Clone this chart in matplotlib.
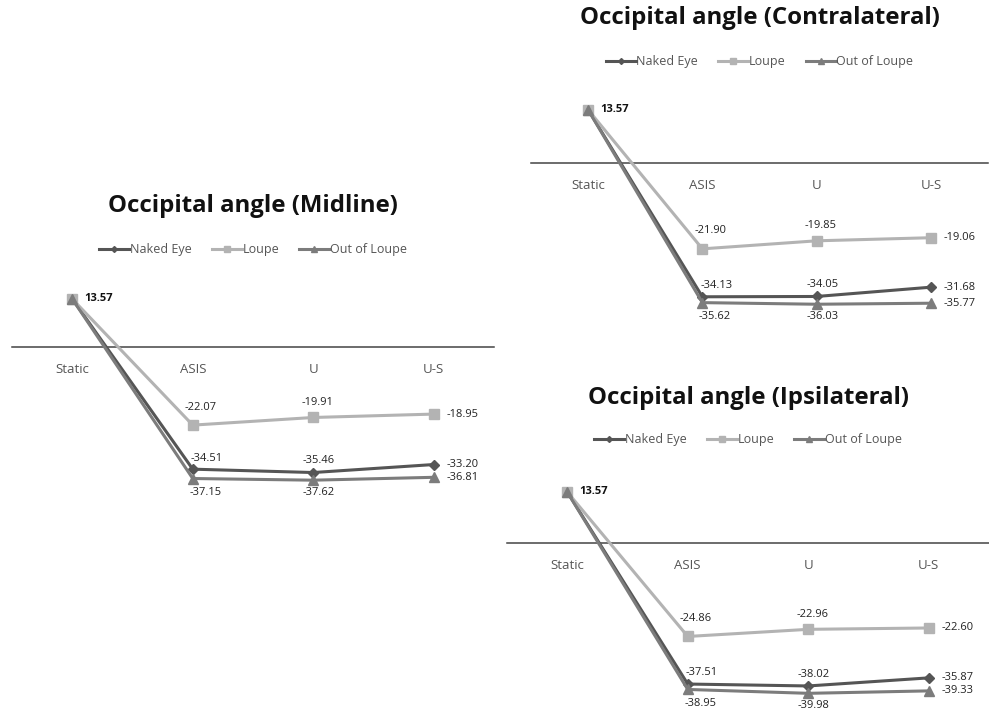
import matplotlib
matplotlib.use("Agg")
import matplotlib.pyplot as plt

plt.rcParams['font.family'] = ['Open Sans', 'DejaVu Sans']

categories = ["Static", "ASIS", "U", "U-S"]
series_names = ["Naked Eye", "Loupe", "Out of Loupe"]

midline_naked = [13.57, -34.51, -35.46, -33.20]
midline_loupe = [13.57, -22.07, -19.91, -18.95]
midline_out = [13.57, -37.15, -37.62, -36.81]

contra_naked = [13.57, -34.13, -34.05, -31.68]
contra_loupe = [13.57, -21.90, -19.85, -19.06]
contra_out = [13.57, -35.62, -36.03, -35.77]

ipsi_naked = [13.57, -37.51, -38.02, -35.87]
ipsi_loupe = [13.57, -24.86, -22.96, -22.60]
ipsi_out = [13.57, -38.95, -39.98, -39.33]

W, H = 989, 711
DPI = 100
fig = plt.figure(figsize=(W / DPI, H / DPI), dpi=DPI)

colors = ["#555555", "#b3b3b3", "#7c7c7c"]
markers = ["D", "s", "^"]
msizes = [5, 6.5, 7]
YLIM = (-43, 18)

# label offsets (points): [series][category index 1..2]
mid_off = {
    1: [(10, 8), (6, 13), (9, -10)],
    2: [(4, 8.5), (3, 11), (4, -9)],
}
last_off = (9, 0)


def panel(title, data, left, right, zero_px, scale, title_y, legend_y):
    top = zero_px - YLIM[1] * scale
    bottom = zero_px - YLIM[0] * scale
    ax = fig.add_axes([left / W, 1 - bottom / H, (right - left) / W, (bottom - top) / H])
    ax.set_xlim(-0.5, 3.5)
    ax.set_ylim(*YLIM)
    for s in ["top", "right", "left"]:
        ax.spines[s].set_visible(False)
    ax.spines["bottom"].set_position(("data", 0))
    ax.spines["bottom"].set_color("#444444")
    ax.spines["bottom"].set_linewidth(1.1)
    ax.set_yticks([])
    x = list(range(len(categories)))
    ax.set_xticks(x)
    ax.set_xticklabels(categories, fontsize=9.5, color="#555555")
    ax.tick_params(axis="x", length=0, pad=11.5)
    handles = []
    for i, vals in enumerate(data):
        ln, = ax.plot(x, vals, color=colors[i], marker=markers[i], markersize=msizes[i],
                      linewidth=2.2, label=series_names[i], clip_on=False, zorder=3 + i)
        handles.append(ln)
        for j, v in enumerate(vals):
            if j == 0:
                if i == 2:
                    ax.annotate(f"{v:.2f}", (j, v), xytext=(9, 0), textcoords="offset points",
                                ha="left", va="center", fontsize=8, fontweight="bold",
                                color="#111111")
                continue
            if j == len(vals) - 1:
                off = last_off
                ha = "left"
            else:
                off = mid_off[j][i]
                ha = "center"
            ax.annotate(f"{v:.2f}", (j, v), xytext=off, textcoords="offset points",
                        ha=ha, va="center", fontsize=8, color="#222222")
    cx = (left + right) / 2
    fig.text(cx / W, 1 - title_y / H, title, ha="center", va="center",
             fontsize=17.3, fontweight="bold", color="#111111")
    fig.legend(handles=handles, loc="center", bbox_to_anchor=(cx / W, 1 - legend_y / H),
               ncol=3, frameon=False, fontsize=9, handlelength=2.4, handletextpad=0.05,
               columnspacing=1.6, labelcolor="#555555", markerscale=0.6)
    return ax


panel("Occipital angle (Midline)", [midline_naked, midline_loupe, midline_out],
      12, 494, 347, 3.54, 206, 250)
panel("Occipital angle (Contralateral)", [contra_naked, contra_loupe, contra_out],
      531, 988, 163, 3.92, 18, 62)
panel("Occipital angle (Ipsilateral)", [ipsi_naked, ipsi_loupe, ipsi_out],
      507, 989, 543, 3.76, 398, 440)

fig.savefig("out.png", dpi=DPI)
